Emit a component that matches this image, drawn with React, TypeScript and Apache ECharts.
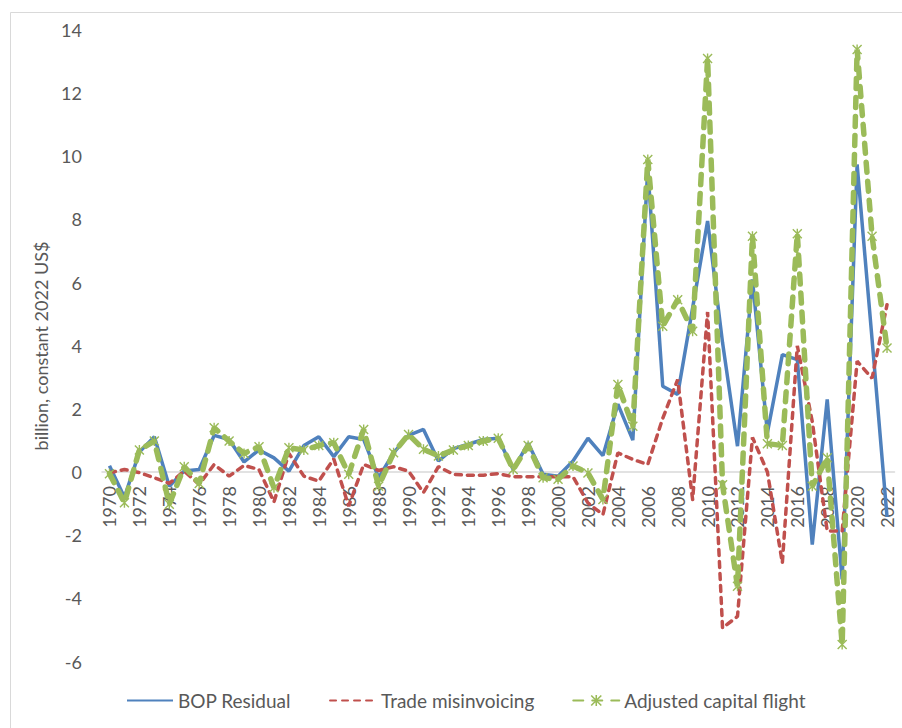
import React, { useEffect, useRef } from "react";
import * as echarts from "echarts";

const years = [
  "1970", "1971", "1972", "1973", "1974", "1975", "1976", "1977", "1978", "1979",
  "1980", "1981", "1982", "1983", "1984", "1985", "1986", "1987", "1988", "1989",
  "1990", "1991", "1992", "1993", "1994", "1995", "1996", "1997", "1998", "1999",
  "2000", "2001", "2002", "2003", "2004", "2005", "2006", "2007", "2008", "2009",
  "2010", "2011", "2012", "2013", "2014", "2015", "2016", "2017", "2018", "2019",
  "2020", "2021", "2022",
];

const bopResidual = [
  0.2, -0.8, 0.63, 1.12, -0.45, 0.03, 0.08, 1.16, 1.03, 0.32,
  0.7, 0.45, 0.03, 0.84, 1.12, 0.49, 1.12, 1.03, -0.18, 0.61,
  1.16, 1.35, 0.35, 0.74, 0.88, 1.03, 1.07, 0.08, 0.91, -0.07,
  -0.13, 0.35, 1.07, 0.52, 2.15, 1.01, 9.6, 2.72, 2.46, 5.2,
  7.95, 4.1, 0.82, 6.1, 1.25, 3.72, 3.56, -2.3, 2.3, -3.4,
  9.74, 4.2, -1.42,
];

const tradeMisinvoicing = [
  -0.02, 0.08, -0.02, -0.18, -0.36, 0.03, -0.39, 0.24, -0.13, 0.21,
  0.08, -0.95, 0.59, -0.13, -0.29, 0.42, -1.08, 0.24, 0.05, 0.17,
  0.03, -0.65, 0.17, -0.07, -0.1, -0.1, -0.05, -0.15, -0.15, -0.15,
  -0.15, -0.15, -0.98, -1.35, 0.61, 0.4, 0.24, 1.7, 2.93, -0.87,
  5.07, -4.94, -4.57, 1.1, 0.0, -2.88, 4.0, 1.6, -1.87, -1.87,
  3.51, 2.97, 5.3,
];

const adjustedCapitalFlight = [
  -0.05, -0.97, 0.7, 0.98, -1.02, 0.17, -0.36, 1.4, 0.98, 0.59,
  0.8, -0.5, 0.77, 0.7, 0.84, 0.93, -0.07, 1.35, -0.45, 0.61,
  1.19, 0.72, 0.51, 0.7, 0.84, 0.98, 1.07, 0.08, 0.84, -0.18,
  -0.23, 0.19, -0.03, -0.87, 2.77, 1.45, 9.9, 4.62, 5.46, 4.46,
  13.1, -0.4, -3.62, 7.47, 0.9, 0.84, 7.55, -0.45, 0.45, -5.46,
  13.38, 7.47, 3.93,
];

const seriesNames = ["BOP Residual", "Trade misinvoicing", "Adjusted capital flight"];
const yAxisTitle = "billion, constant 2022 US$";
const yMin = -6;
const yMax = 14;
const yStep = 2;

const FONT = "Lato, 'Liberation Sans', sans-serif";
const TEXT_COLOR = "#595959";

const starPath =
  "path://M4.3,0 L5.7,0 L5.7,10 L4.3,10 Z M0,1 L1,0 L10,9 L9,10 Z M9,0 L10,1 L1,10 L0,9 Z";

const GRID_TOP = 30;
const GRID_BOTTOM = 66.5;
const HEIGHT = 728;

export default function App() {
  const ref = useRef<HTMLDivElement>(null);

  useEffect(() => {
    if (!ref.current) return;
    const chart = echarts.init(ref.current, undefined, { renderer: "svg" });
    const plotH = HEIGHT - GRID_TOP - GRID_BOTTOM;
    const zeroOffset = (plotH * (0 - yMin)) / (yMax - yMin);
    chart.setOption({
      animation: false,
      backgroundColor: "#ffffff",
      grid: { left: 102, right: 7.5, top: GRID_TOP, bottom: GRID_BOTTOM, containLabel: false },
      xAxis: {
        type: "category",
        data: years,
        boundaryGap: true,
        offset: -zeroOffset,
        axisLine: { onZero: false, lineStyle: { color: "#d9d9d9", width: 1.5 } },
        axisTick: { show: false },
        splitLine: { show: false },
        axisLabel: {
          interval: 1,
          rotate: 90,
          margin: 14,
          fontSize: 18,
          fontFamily: FONT,
          color: TEXT_COLOR,
        },
      },
      yAxis: {
        type: "value",
        min: yMin,
        max: yMax,
        interval: yStep,
        axisLine: { show: false },
        axisTick: { show: false },
        splitLine: { show: false },
        axisLabel: { margin: 20, fontSize: 18, fontFamily: FONT, color: TEXT_COLOR },
      },
      legend: {
        left: 126,
        top: 691,
        padding: 0,
        itemWidth: 46,
        itemHeight: 14,
        itemGap: 38,
        textStyle: { fontSize: 19, fontFamily: FONT, color: TEXT_COLOR },
        data: [
          { name: seriesNames[0], itemStyle: { opacity: 0 } },
          { name: seriesNames[1], itemStyle: { opacity: 0 } },
          { name: seriesNames[2] },
        ],
      },
      graphic: [
        {
          type: "rect",
          silent: true,
          shape: { x: 10.5, y: 12.5, width: 1000, height: 1000 },
          style: { fill: "none", stroke: "#d9d9d9", lineWidth: 1 },
        },
        {
          type: "text",
          silent: true,
          x: 41,
          y: 346,
          rotation: Math.PI / 2,
          style: {
            text: yAxisTitle,
            fill: TEXT_COLOR,
            fontSize: 18,
            fontFamily: FONT,
            align: "center",
            verticalAlign: "middle",
          },
        },
      ],
      series: [
        {
          name: seriesNames[0],
          type: "line",
          data: bopResidual,
          symbol: "none",
          lineStyle: { color: "#4F81BD", width: 3.5 },
          itemStyle: { color: "#4F81BD" },
          z: 2,
        },
        {
          name: seriesNames[1],
          type: "line",
          data: tradeMisinvoicing,
          symbol: "none",
          lineStyle: { color: "#C0504D", width: 3.5, type: [6, 6], cap: "round" },
          itemStyle: { color: "#C0504D" },
          z: 3,
        },
        {
          name: seriesNames[2],
          type: "line",
          data: adjustedCapitalFlight,
          symbol: starPath,
          symbolSize: 10,
          showAllSymbol: true,
          lineStyle: { color: "#9BBB59", width: 5.5, type: [10, 9], cap: "round" },
          itemStyle: { color: "#9BBB59" },
          z: 4,
        },
      ],
    });
    return () => chart.dispose();
  }, []);

  return (
    <div
      ref={ref}
      style={{ position: "fixed", left: 0, top: 0, width: 902, height: 728 }}
    />
  );
}
